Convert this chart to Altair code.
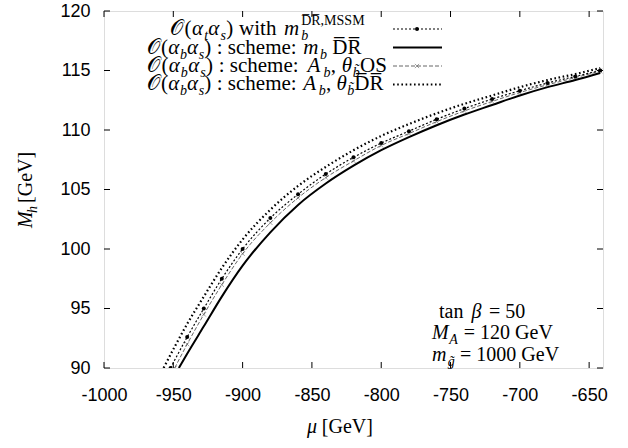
import altair as alt
import pandas as pd

# ---------------- data ----------------
mu_tt = [-952, -940, -928, -915, -900, -880, -860, -840, -820, -800, -780, -760, -740, -720, -700, -680, -660, -642]
mh_tt = [90.0, 92.6, 95.0, 97.5, 100.0, 102.6, 104.6, 106.3, 107.7, 108.9, 109.9, 110.9, 111.8, 112.6, 113.3, 113.95, 114.5, 115.0]

mu_mbdr = [-946, -940, -928, -915, -900, -880, -860, -840, -820, -800, -780, -760, -740, -720, -700, -680, -660, -642]
mh_mbdr = [90.0, 91.2, 93.5, 96.0, 98.6, 101.4, 103.7, 105.5, 107.0, 108.3, 109.4, 110.4, 111.3, 112.1, 112.9, 113.6, 114.2, 114.8]

mu_os = [-949, -940, -928, -915, -900, -880, -860, -840, -820, -800, -780, -760, -740, -720, -700, -680, -660, -642]
mh_os = [90.0, 92.0, 94.5, 97.0, 99.6, 102.2, 104.3, 106.0, 107.4, 108.7, 109.7, 110.7, 111.6, 112.4, 113.15, 113.8, 114.4, 114.95]

mu_dr = [-957, -940, -928, -915, -900, -880, -860, -840, -820, -800, -780, -760, -740, -720, -700, -680, -660, -642]
mh_dr = [90.0, 93.7, 96.0, 98.4, 100.8, 103.3, 105.3, 106.9, 108.3, 109.5, 110.5, 111.4, 112.2, 112.9, 113.6, 114.2, 114.7, 115.2]

x_ticks = [-1000, -950, -900, -850, -800, -750, -700, -650]
y_ticks = [90, 95, 100, 105, 110, 115, 120]

# ---------------- layout ----------------
W, H = 499, 357
L, T = 104, 11

xs = alt.Scale(domain=[-1000, -640], nice=False, zero=False)
ys = alt.Scale(domain=[90, 120], nice=False, zero=False)
x_axis = alt.Axis(values=x_ticks, ticks=False, domain=False, grid=False, labelFont="Liberation Sans",
                  labelFontSize=18, labelColor="black", labelPadding=18, labelFlush=False,
                  labelOverlap=False, labelExpr="'' + datum.value", title=None)
y_axis = alt.Axis(values=y_ticks, ticks=False, domain=False, grid=False, labelFont="Liberation Sans",
                  labelFontSize=18, labelColor="black", labelPadding=14, labelFlush=False,
                  labelOverlap=False, labelExpr="'' + datum.value", title=None)
X = alt.X("mu:Q", scale=xs, axis=x_axis)
Y = alt.Y("mh:Q", scale=ys, axis=y_axis)

df_tt = pd.DataFrame({"mu": mu_tt, "mh": mh_tt})
df_mb = pd.DataFrame({"mu": mu_mbdr, "mh": mh_mbdr})
df_os = pd.DataFrame({"mu": mu_os, "mh": mh_os})
df_dr = pd.DataFrame({"mu": mu_dr, "mh": mh_dr})

XSHAPE = "M-1,-1L1,1M-1,1L1,-1"

layers = []
layers.append(alt.Chart(df_dr).mark_line(color="black", strokeWidth=2.2, strokeDash=[1.6, 2.6], interpolate="monotone", clip=True).encode(x=X, y=Y))
layers.append(alt.Chart(df_os).mark_line(color="#555555", strokeWidth=0.9, strokeDash=[4, 2], interpolate="monotone", clip=True).encode(x=X, y=Y))
layers.append(alt.Chart(df_os).mark_point(shape=XSHAPE, filled=False, color="#555555", size=18, strokeWidth=0.8, clip=True).encode(x=X, y=Y))
layers.append(alt.Chart(df_mb).mark_line(color="black", strokeWidth=2.0, interpolate="monotone", clip=True).encode(x=X, y=Y))
layers.append(alt.Chart(df_tt).mark_line(color="black", strokeWidth=1.2, strokeDash=[2, 2], interpolate="monotone", clip=True).encode(x=X, y=Y))
layers.append(alt.Chart(df_tt).mark_point(shape="circle", filled=True, color="black", size=16, opacity=1, clip=True).encode(x=X, y=Y))

# inward ticks on all four sides
dfx = pd.DataFrame({"mu": x_ticks})
dfy = pd.DataFrame({"mh": y_ticks})
tick_style = dict(color="black", strokeWidth=1)
layers.append(alt.Chart(dfx).mark_rule(**tick_style).encode(x=X, y=alt.value(H), y2=alt.value(H - 6)))
layers.append(alt.Chart(dfx).mark_rule(**tick_style).encode(x=X, y=alt.value(0), y2=alt.value(6)))
layers.append(alt.Chart(dfy).mark_rule(**tick_style).encode(y=Y, x=alt.value(0), x2=alt.value(6)))
layers.append(alt.Chart(dfy).mark_rule(**tick_style).encode(y=Y, x=alt.value(W), x2=alt.value(W - 6)))

# legend samples
leg_y = [18, 36.5, 55, 73.5]
lx0, lx1, lmk = 289, 338, 313
one = pd.DataFrame({"a": [0]})
layers.append(alt.Chart(one).mark_rule(color="black", strokeWidth=1.2, strokeDash=[2, 2]).encode(x=alt.value(lx0), x2=alt.value(lx1), y=alt.value(leg_y[0])))
layers.append(alt.Chart(one).mark_point(shape="circle", filled=True, color="black", size=16, opacity=1).encode(x=alt.value(lmk), y=alt.value(leg_y[0])))
layers.append(alt.Chart(one).mark_rule(color="black", strokeWidth=2.0).encode(x=alt.value(lx0), x2=alt.value(lx1), y=alt.value(leg_y[1])))
layers.append(alt.Chart(one).mark_rule(color="#555555", strokeWidth=0.9, strokeDash=[4, 2]).encode(x=alt.value(lx0), x2=alt.value(lx1), y=alt.value(leg_y[2])))
layers.append(alt.Chart(one).mark_point(shape=XSHAPE, filled=False, color="#555555", size=18, strokeWidth=0.8).encode(x=alt.value(lmk), y=alt.value(leg_y[2])))
layers.append(alt.Chart(one).mark_rule(color="black", strokeWidth=2.2, strokeDash=[1.6, 2.6]).encode(x=alt.value(lx0), x2=alt.value(lx1), y=alt.value(leg_y[3])))

# ---------------- rich text helper ----------------
CW = {'(': .333, ')': .333, ':': .278, ',': .25, ' ': .25, 'a': .444, 'b': .5, 'c': .444, 'e': .444,
      'h': .5, 'm': .778, 'n': .5, 's': .389, 't': .278, 'w': .722, 'i': .278, 'A': .722, 'D': .722,
      'G': .722, 'M': .889, 'O': .722, 'R': .667, 'S': .556, 'V': .722, 'α': .55, 'β': .55, 'θ': .5,
      '𝒪': .66, '=': .564, 'g': .5, '[': .333, ']': .333, 'μ': .55}


def tw(s):
    return sum(CW.get(c, .5) for c in s if c not in "\u0305\u0303")


def lay(segs, p0, p1, base, fs=21, sfs=14, vertical=False):
    items = []
    cur = 0.0
    sub_start = None
    for text, kind in segs:
        size = sfs if kind in ("sub", "subi", "sup") else fs
        lead = len(text) - len(text.lstrip(" "))
        trail = len(text) - len(text.rstrip(" "))
        core = text.strip(" ")
        cur += lead * 0.25 * size
        wd = tw(core) * size
        if kind == "sup" and sub_start is not None:
            start = sub_start
            cur = max(cur, start + wd)
        else:
            start = cur
            cur += wd
        cur += trail * 0.25 * size
        sub_start = start if kind in ("sub", "subi") else None
        items.append((core, kind, start, size))
    k = (p1 - p0) / cur
    out = []
    for text, kind, start, size in items:
        pos = p0 + start * k
        off = 5 if kind in ("sub", "subi") else (-10 if kind == "sup" else 0)
        style = "italic" if kind in ("i", "subi") else "normal"
        if vertical:
            out.append({"px": base + off - L, "py": pos - T, "t": text, "fs": size, "st": style})
        else:
            out.append({"px": pos - L, "py": base + off - T, "t": text, "fs": size, "st": style})
    return out


OV = "D\u0305R\u0305"
rows = []
rows += lay([("𝒪", "n"), ("(", "n"), ("α", "i"), ("t", "subi"), ("α", "i"), ("s", "subi"), (")", "n"),
             (" with ", "n"), ("m", "i"), ("b", "subi"), (OV + ",MSSM", "sup")], 170, 368, 35)
rows += lay([("𝒪", "n"), ("(", "n"), ("α", "i"), ("b", "subi"), ("α", "i"), ("s", "subi"), (")", "n"),
             (" : scheme: ", "n"), ("m", "i"), ("b", "subi"), (" " + OV, "n")], 147, 362, 54)
rows += lay([("𝒪", "n"), ("(", "n"), ("α", "i"), ("b", "subi"), ("α", "i"), ("s", "subi"), (")", "n"),
             (" : scheme: ", "n"), ("A", "i"), ("b", "subi"), (", ", "n"), ("θ", "i"), ("b\u0303", "subi"),
             ("OS", "n")], 147, 388, 72)
rows += lay([("𝒪", "n"), ("(", "n"), ("α", "i"), ("b", "subi"), ("α", "i"), ("s", "subi"), (")", "n"),
             (" : scheme: ", "n"), ("A", "i"), ("b", "subi"), (", ", "n"), ("θ", "i"), ("b\u0303", "subi"),
             (OV, "n")], 147, 384, 90)
# parameter box
rows += lay([("tan ", "n"), ("β", "i"), (" = 50", "n")], 439, 529, 318, fs=20)
rows += lay([("M", "i"), ("A", "subi"), (" = 120 GeV", "n")], 432, 550, 339, fs=20)
rows += lay([("m", "i"), ("g\u0303", "subi"), (" = 1000 GeV", "n")], 432, 561, 361, fs=20)
# x title
rows += lay([("μ", "i"), (" [GeV]", "n")], 307, 369, 433, fs=20)
vrows = lay([("M", "i"), ("h", "subi"), (" [GeV]", "n")], 228, 160, 32, fs=20, vertical=True)

tdf = pd.DataFrame(rows)
vdf = pd.DataFrame(vrows)

for st in ("normal", "italic"):
    sub = tdf[tdf["st"] == st]
    if len(sub):
        layers.append(alt.Chart(sub).mark_text(align="left", baseline="alphabetic", font="Liberation Serif",
                                               fontStyle=st, color="black").encode(
            x=alt.X("px:Q", scale=None, axis=None), y=alt.Y("py:Q", scale=None, axis=None),
            text="t:N", size=alt.Size("fs:Q", scale=None, legend=None)))
    vsub = vdf[vdf["st"] == st]
    if len(vsub):
        layers.append(alt.Chart(vsub).mark_text(align="left", baseline="alphabetic", font="Liberation Serif",
                                                fontStyle=st, color="black", angle=270).encode(
            x=alt.X("px:Q", scale=None, axis=None), y=alt.Y("py:Q", scale=None, axis=None),
            text="t:N", size=alt.Size("fs:Q", scale=None, legend=None)))

chart = alt.layer(*layers).properties(
    width=W, height=H,
    padding={"left": L, "top": T, "right": 628 - L - W, "bottom": 448 - T - H},
    autosize=alt.AutoSizeParams(type="none"),
).configure_view(stroke="black", strokeWidth=1.2).configure(background="white")

chart.save("out.html", embed_options={"renderer": "svg", "actions": False})
